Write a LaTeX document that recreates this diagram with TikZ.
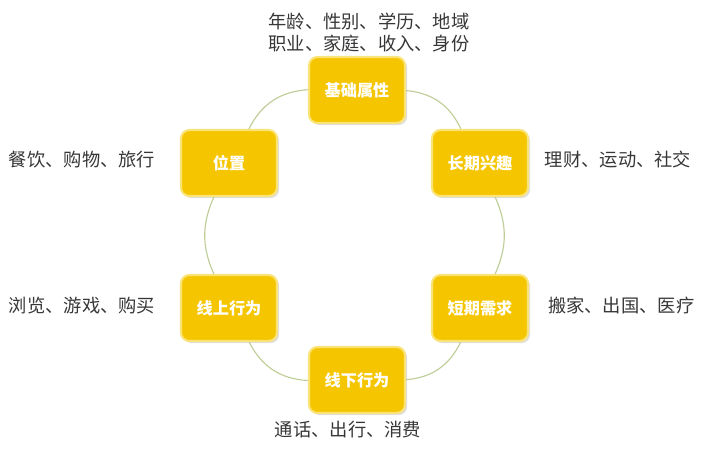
\documentclass[tikz,border=0pt]{standalone}
\usepackage{fontspec}
\setmainfont{Noto Sans CJK SC}
\usepackage{xcolor}
\usetikzlibrary{shadows}
\definecolor{boxyellow}{RGB}{245,198,0}
\definecolor{glow}{RGB}{250,228,120}
\definecolor{ringgreen}{RGB}{190,205,150}
\definecolor{textgray}{RGB}{55,55,55}

\begin{document}
\begin{tikzpicture}[
	box/.style={rounded corners=6pt, fill=boxyellow, draw=glow, line width=1.5pt,
		minimum width=2.4cm, minimum height=1.65cm, text=white,
		font=\bfseries\fontsize{11.5}{12}\selectfont,
		drop shadow={opacity=0.25, shadow xshift=1.5pt, shadow yshift=-1.5pt}},
	tag/.style={text=textgray, font=\fontsize{13}{16}\selectfont, align=center},
	ring/.style={ringgreen, line width=0.8pt}]
	\useasboundingbox (0,0) rectangle (17.975,11.875);
	\node[box] (jc) at (8.925,9.625) {基础属性};
	\node[box] (cq) at (12.0,7.8) {长期兴趣};
	\node[box] (dq) at (12.0,4.175) {短期需求};
	\node[box] (xx) at (8.925,2.375) {线下行为};
	\node[box] (xs) at (5.725,4.175) {线上行为};
	\node[box] (wz) at (5.725,7.8) {位置};
	\draw[ring] (jc) to[bend left=30] (cq);
	\draw[ring] (cq) to[bend left=24] (dq);
	\draw[ring] (dq) to[bend left=30] (xx);
	\draw[ring] (xx) to[bend left=30] (xs);
	\draw[ring] (xs) to[bend left=24] (wz);
	\draw[ring] (wz) to[bend left=30] (jc);
	\node[tag] (jct) at (9.225,11.06) {年龄、性别、学历、地域\\职业、家庭、收入、身份};
	\node[tag] (cqt) at (15.45,7.875) {理财、运动、社交};
	\node[tag] (dqt) at (15.53,4.225) {搬家、出国、医疗};
	\node[tag] (xxt) at (8.7,1.125) {通话、出行、消费};
	\node[tag] (xst) at (2.05,4.225) {浏览、游戏、购买};
	\node[tag] (wzt) at (2.05,7.875) {餐饮、购物、旅行};
\end{tikzpicture}
\end{document}
